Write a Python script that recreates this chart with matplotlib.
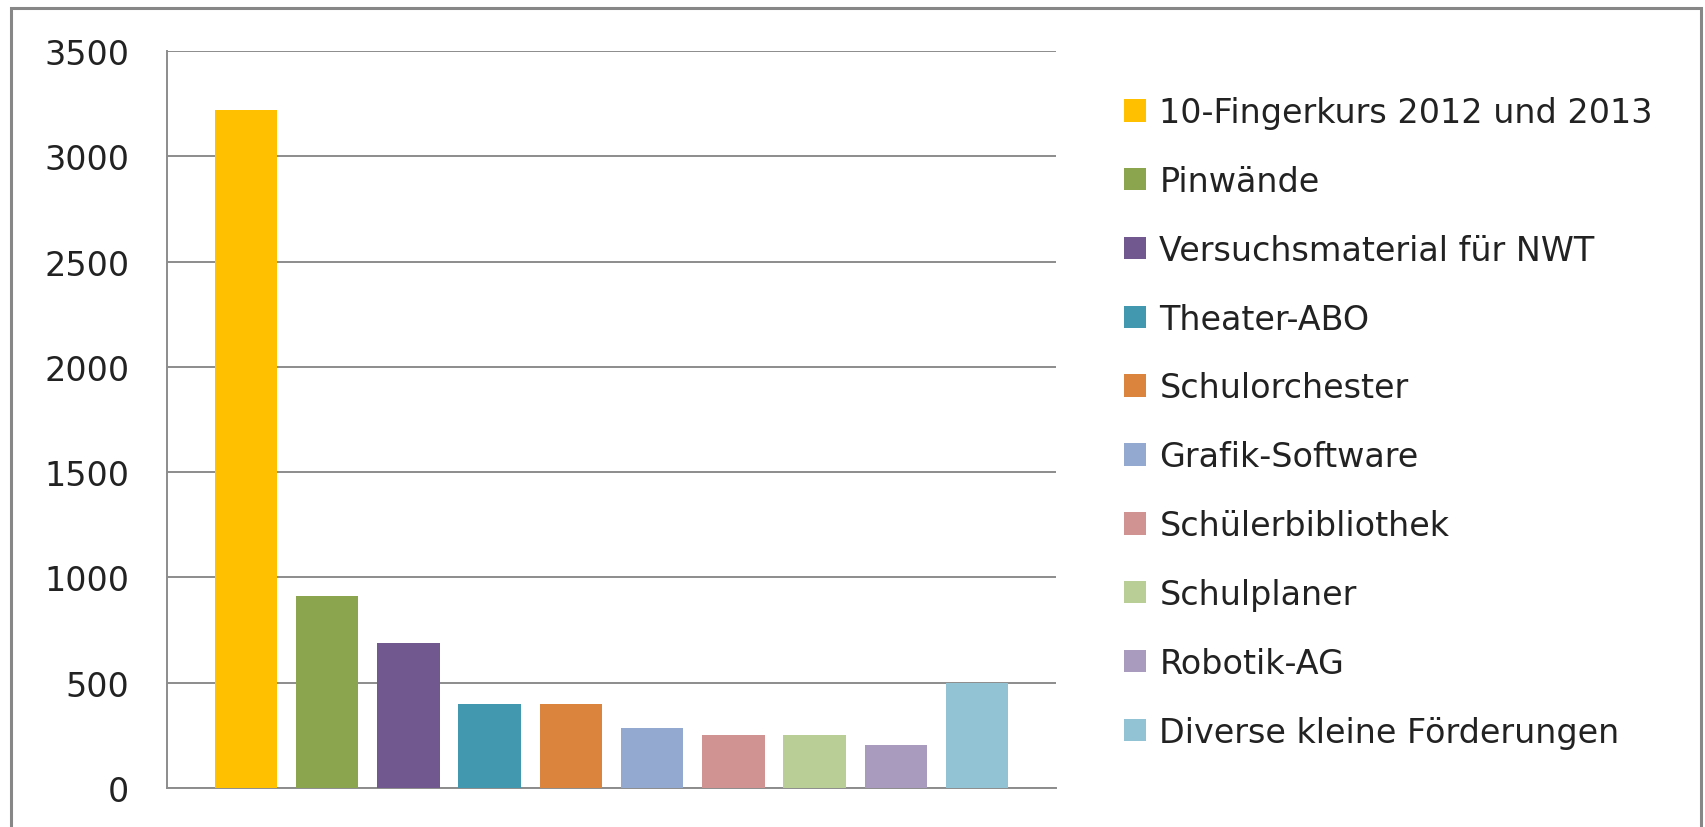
import numpy as np
import matplotlib
matplotlib.use('Agg')
from matplotlib import pyplot as plt
from matplotlib.patches import Rectangle

# data
labels = ['10-Fingerkurs 2012 und 2013', 'Pinwände', 'Versuchsmaterial für NWT',
          'Theater-ABO', 'Schulorchester', 'Grafik-Software', 'Schülerbibliothek',
          'Schulplaner', 'Robotik-AG', 'Diverse kleine Förderungen']
values = [3220, 910, 690, 400, 400, 285, 250, 250, 205, 500]
colors = ['#FFC000', '#8AA54E', '#71588F', '#4198AF', '#DB843D',
          '#93A9CF', '#D19392', '#B9CD96', '#A99BBD', '#92C3D5']
yticks = [0, 500, 1000, 1500, 2000, 2500, 3000, 3500]

W, H = 1705, 828
FS = 24
GRID = '#8c8c8c'

fig = plt.figure(figsize=(W / 100, H / 100), dpi=100)
ax = fig.add_axes([167 / W, 1 - 789 / H, (1056 - 167) / W, (789 - 52) / H])

x = np.arange(len(values))
bars = ax.bar(x, values, width=0.77, color=colors, label=labels, zorder=3)

ax.set_xlim(-0.97, 9.97)
ax.set_ylim(0, 3500)
ax.set_yticks(yticks)
ax.set_yticklabels([str(t) for t in yticks], fontsize=FS, color='#222222')
ax.set_xticks([])
ax.tick_params(axis='y', length=0, pad=27)
ax.yaxis.grid(True, color=GRID, linewidth=1.4, zorder=0)
for s in ['top', 'right']:
    ax.spines[s].set_visible(False)
ax.spines['left'].set_color(GRID)
ax.spines['left'].set_linewidth(1.4)
ax.spines['bottom'].set_color(GRID)
ax.spines['bottom'].set_linewidth(1.4)

leg = ax.legend(handles=list(bars), labels=labels, loc='upper left',
                bbox_to_anchor=(1124 / W, 1 - 97 / H), bbox_transform=fig.transFigure,
                frameon=False, fontsize=FS, borderpad=0, borderaxespad=0,
                handlelength=0.66, handleheight=0.66, handletextpad=0.4,
                labelspacing=1.075)
for t in leg.get_texts():
    t.set_color('#222222')

# outer chart border
fig.patches.append(Rectangle((11 / W, -0.1), (1701 - 11) / W, 1.1 - 9 / H,
                             transform=fig.transFigure, fill=False,
                             edgecolor='#878787', linewidth=2.2))

plt.savefig('out.png', dpi=100)
